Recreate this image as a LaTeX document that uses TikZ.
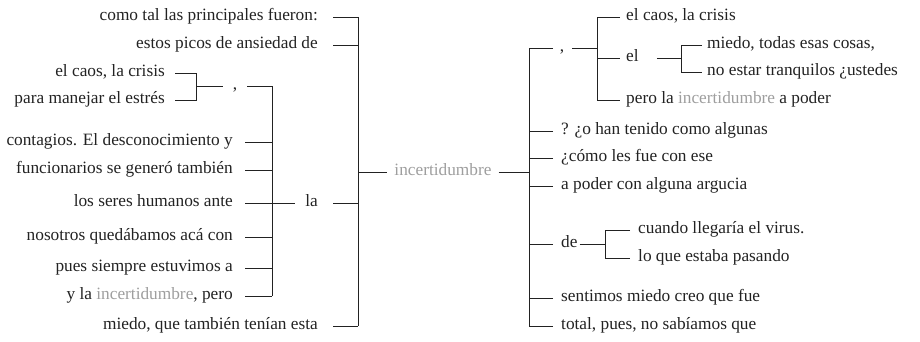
\documentclass[tikz,border=0pt]{standalone}
\usepackage{fontspec}
\setmainfont{Liberation Serif}
\definecolor{inkc}{HTML}{222222}
\definecolor{incg}{HTML}{9E9E9E}
\tikzset{
  w/.style={inner sep=0pt, text height=7.9pt, text depth=0pt, font=\fontsize{17.3}{20}\selectfont, text=inkc},
  le/.style={w, anchor=east},
  ri/.style={w, anchor=west},
  ln/.style={draw=inkc, line width=0.9pt},
}
\newcommand{\gw}[1]{\textcolor{incg}{#1}}
\begin{document}
\begin{tikzpicture}[x=1pt,y=-1pt]
\useasboundingbox (0,0) rectangle (920,342);
% left main
\node[le] (L1) at (318,17) {como tal las principales fueron:};
\node[le] (L2) at (318,45) {estos picos de ansiedad de};
\node[le] (la) at (318,203) {la};
\node[le] (L12) at (318,326) {miedo, que también tenían esta};
\coordinate (bL) at (358,172);
\node[w, text=incg] (inc) at (443,172) {incertidumbre};
\coordinate (bR) at (529,172);
\foreach \n in {L1,L2,la,L12} \draw[ln] ([xshift=15pt]\n.east) -- (\n -| bL);
\draw[ln] (L1 -| bL) -- (L12 -| bL);
\draw[ln] (bL) -- ([xshift=-7pt]inc.west);
\draw[ln] ([xshift=7pt]inc.east) -- (bR);
% la subtree
\coordinate (bLa) at (272,203);
\node[w] (c1) at (235,86) {,};
\node[le] (C1) at (233,142) {contagios. El desconocimiento y};
\node[le] (C2) at (233,170) {funcionarios se generó también};
\node[le] (C3) at (233,203) {los seres humanos ante};
\node[le] (C4) at (233,237) {nosotros quedábamos acá con};
\node[le] (C5) at (233,268) {pues siempre estuvimos a};
\node[le] (C6) at (233,296) {y la \gw{incertidumbre}, pero};
\foreach \n in {C1,C2,C3,C4,C5,C6} \draw[ln] ([xshift=12pt]\n.east) -- (\n -| bLa);
\draw[ln] ([xshift=12pt]c1.center) -- (c1 -| bLa) -- (C6 -| bLa);
\draw[ln] (bLa) -- ([xshift=-10pt]la.west);
% comma subtree left
\coordinate (bS) at (196,86);
\node[le] (S1) at (165,73) {el caos, la crisis};
\node[le] (S2) at (165,100) {para manejar el estrés};
\draw[ln] ([xshift=10pt]S1.east) -- (S1 -| bS) -- (S2 -| bS) -- ([xshift=10pt]S2.east);
\draw[ln] (bS) -- ([xshift=-12pt]c1.center);
% right main
\node[w] (c2) at (562,48) {,};
\node[ri] (R2) at (561,131) {? ¿o han tenido como algunas};
\node[ri] (R3) at (561,158) {¿cómo les fue con ese};
\node[ri] (R4) at (561,186) {a poder con alguna argucia};
\node[ri] (de) at (561,244) {de};
\node[ri] (R6) at (561,298) {sentimos miedo creo que fue};
\node[ri] (R7) at (561,326) {total, pues, no sabíamos que};
\draw[ln] ([xshift=-9pt]c2.center) -- (c2 -| bR) -- (R7 -| bR);
\foreach \n in {R2,R3,R4,de,R6,R7} \draw[ln] ([xshift=-8pt]\n.west) -- (\n -| bR);
% comma subtree right
\coordinate (bT) at (597,58);
\node[ri] (T1) at (626,17) {el caos, la crisis};
\node[ri] (el) at (626,58) {el};
\node[ri] (T3) at (626,100) {pero la \gw{incertidumbre} a poder};
\draw[ln] ([xshift=10pt]c2.center) -- (c2 -| bT);
\draw[ln] ([xshift=-6pt]T1.west) -- (T1 -| bT) -- (T3 -| bT) -- ([xshift=-6pt]T3.west);
\draw[ln] (bT) -- ([xshift=-6pt]el.west);
% el subtree
\coordinate (bU) at (681,58);
\node[ri] (U1) at (707,45) {miedo, todas esas cosas,};
\node[ri] (U2) at (707,72) {no estar tranquilos ¿ustedes};
\draw[ln] ([xshift=-5pt]U1.west) -- (U1 -| bU) -- (U2 -| bU) -- ([xshift=-5pt]U2.west);
\draw[ln] ([xshift=18pt]el.east) -- (bU);
% de subtree
\coordinate (bV) at (605,244);
\node[ri] (V1) at (638,230) {cuando llegaría el virus.};
\node[ri] (V2) at (638,258) {lo que estaba pasando};
\draw[ln] ([xshift=-8pt]V1.west) -- (V1 -| bV) -- (V2 -| bV) -- ([xshift=-8pt]V2.west);
\draw[ln] ([xshift=2pt]de.east) -- (bV);
\end{tikzpicture}
\end{document}
